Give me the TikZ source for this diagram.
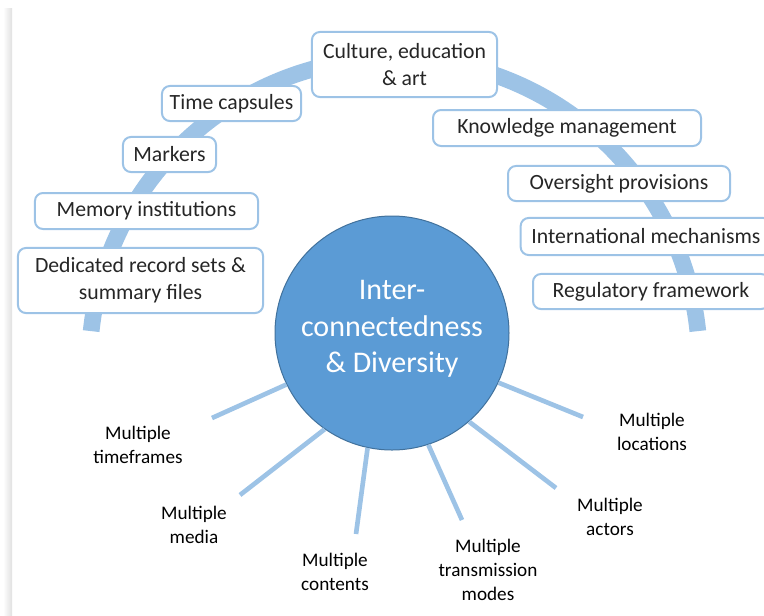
\documentclass[tikz,border=0pt]{standalone}
\usepackage{fontspec}
\setmainfont{Carlito}
\usepackage{tikz}
\usetikzlibrary{positioning}
\definecolor{arcblue}{HTML}{9DC3E6}
\definecolor{hubblue}{HTML}{5B9BD5}
\definecolor{hubedge}{HTML}{41719C}
\definecolor{boxedge}{HTML}{9DC3E6}
\definecolor{labeltext}{HTML}{262626}

\begin{document}
\begin{tikzpicture}[x=0.75pt, y=0.75pt,
    itembox/.style={draw=boxedge, line width=1.5pt, rounded corners=6pt, fill=white, align=center, text=labeltext, font=\fontsize{16.3}{20}\selectfont, inner sep=0pt},
    spoke/.style={arcblue, line width=3.5pt},
    multi/.style={align=center, text=black, font=\fontsize{14.4}{18}\selectfont}]

    % Canvas and left shadow
    \useasboundingbox (0,0) rectangle (764,-615);
    \shade[left color=white, right color=black!12] (3,-8) rectangle (12,-615);

    % Big arc behind the boxes
    \draw[arcblue, line width=12.5pt] (394.5,-363) ++(174:305) arc[start angle=174, end angle=6, radius=305];

    % Boxes on the left half
    \node[itembox, minimum width=138.8pt, minimum height=48.8pt] (culture) at (404.5,-64.5) {Culture, education\\\& art};
    \node[itembox, minimum width=104.3pt, minimum height=26.3pt] (capsules) at (231.5,-103.5) {Time capsules};
    \node[itembox, minimum width=69.8pt, minimum height=26.3pt] (markers) at (169.5,-154.5) {Markers};
    \node[itembox, minimum width=167.3pt, minimum height=27pt] (memory) at (146.5,-211) {Memory institutions};
    \node[itembox, minimum width=183.8pt, minimum height=48.8pt] (records) at (140.5,-280.5) {Dedicated record sets \&\\summary files};

    % Boxes on the right half
    \node[itembox, minimum width=201pt, minimum height=27pt] (knowledge) at (567,-128) {Knowledge management};
    \node[itembox, minimum width=166.5pt, minimum height=26.3pt] (oversight) at (619,-183.5) {Oversight provisions};
    \node[itembox, minimum width=188pt, minimum height=27.8pt] (international) at (646,-236.5) {International mechanisms};
    \node[itembox, minimum width=177pt, minimum height=26.3pt] (regulatory) at (651,-291.5) {Regulatory framework};

    % Hub
    \node[circle, fill=hubblue, draw=hubedge, line width=0.75pt, minimum size=175.5pt, inner sep=0pt, align=center, text=white, font=\fontsize{22.5}{27.4}\selectfont] (hub) at (392,-333) {Inter-\\connectedness\\\& Diversity\\[-18pt]};

    % Spoke ends
    \coordinate (tf-end) at (212,-418);
    \coordinate (md-end) at (240,-495);
    \coordinate (ct-end) at (356,-534);
    \coordinate (tm-end) at (462,-520);
    \coordinate (ac-end) at (556,-488);
    \coordinate (lc-end) at (583,-417);

    % Spokes
    \draw[spoke] (hub.206) -- (tf-end);
    \draw[spoke] (hub.235.5) -- (md-end);
    \draw[spoke] (hub.258) -- (ct-end);
    \draw[spoke] (hub.288.6) -- (tm-end);
    \draw[spoke] (hub.311) -- (ac-end);
    \draw[spoke] (hub.335) -- (lc-end);

    % Labels below
    \node[multi] (timeframes) at (138,-445) {Multiple\\timeframes};
    \node[multi] (media) at (194,-525) {Multiple\\media};
    \node[multi] (contents) at (335,-572) {Multiple\\contents};
    \node[multi] (transmission) at (488,-570) {Multiple\\transmission\\modes};
    \node[multi] (actors) at (610,-517) {Multiple\\actors};
    \node[multi] (locations) at (652,-432) {Multiple\\locations};
\end{tikzpicture}
\end{document}
